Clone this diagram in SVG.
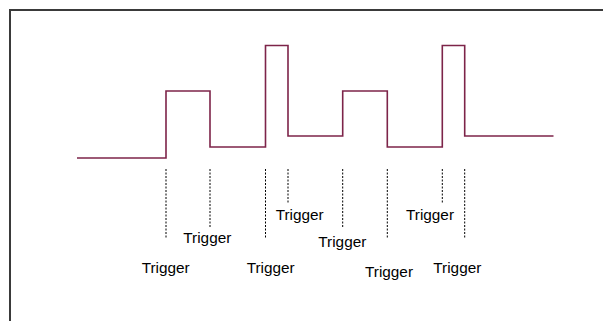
<svg xmlns="http://www.w3.org/2000/svg" width="603" height="321" viewBox="0 0 603 321">
  <style>
    .frame { fill: #ffffff; stroke: #3a3a3a; stroke-width: 2; }
    .signal { fill: none; stroke: #7d2449; stroke-width: 1.6; stroke-linejoin: miter; }
    .marker-line { stroke: #000000; stroke-width: 1; stroke-dasharray: 2 1.5; }
    .label { font-family: "Liberation Sans", Arial, sans-serif; font-size: 14px; fill: #000000; }
  </style>

  <rect width="603" height="321" fill="#ffffff"/>
  <!-- outer frame, continues past right and bottom edges -->
  <rect class="frame" x="10" y="10" width="620" height="340"/>

  <!-- pulse train -->
  <g id="signal">
    <path class="signal" d="M77,158 H166 V91 H210 V147 H265.5 V45.5 H288 V136 H342.7 V91 H387.3 V147 H442.3 V45.5 H464.7 V136 H553.5"/>
  </g>

  <!-- dotted trigger markers -->
  <g id="connectors">
    <line class="marker-line" x1="166" y1="169" x2="166" y2="238"/>
    <line class="marker-line" x1="210" y1="169" x2="210" y2="227"/>
    <line class="marker-line" x1="265.5" y1="169" x2="265.5" y2="238"/>
    <line class="marker-line" x1="288" y1="169" x2="288" y2="204"/>
    <line class="marker-line" x1="342.7" y1="169" x2="342.7" y2="227"/>
    <line class="marker-line" x1="387.3" y1="169" x2="387.3" y2="238"/>
    <line class="marker-line" x1="442.3" y1="169" x2="442.3" y2="204"/>
    <line class="marker-line" x1="464.7" y1="169" x2="464.7" y2="238"/>
  </g>

  <!-- trigger labels -->
  <g id="label-1"><text class="label" x="141.7" y="272.5" textLength="48" lengthAdjust="spacingAndGlyphs">Trigger</text></g>
  <g id="label-2"><text class="label" x="183.3" y="243" textLength="48" lengthAdjust="spacingAndGlyphs">Trigger</text></g>
  <g id="label-3"><text class="label" x="246.7" y="272.5" textLength="48" lengthAdjust="spacingAndGlyphs">Trigger</text></g>
  <g id="label-4"><text class="label" x="275.7" y="219.5" textLength="48" lengthAdjust="spacingAndGlyphs">Trigger</text></g>
  <g id="label-5"><text class="label" x="318.3" y="246.5" textLength="48" lengthAdjust="spacingAndGlyphs">Trigger</text></g>
  <g id="label-6"><text class="label" x="365" y="276.5" textLength="48" lengthAdjust="spacingAndGlyphs">Trigger</text></g>
  <g id="label-7"><text class="label" x="406" y="219.5" textLength="48" lengthAdjust="spacingAndGlyphs">Trigger</text></g>
  <g id="label-8"><text class="label" x="433.3" y="272.5" textLength="48" lengthAdjust="spacingAndGlyphs">Trigger</text></g>
</svg>
